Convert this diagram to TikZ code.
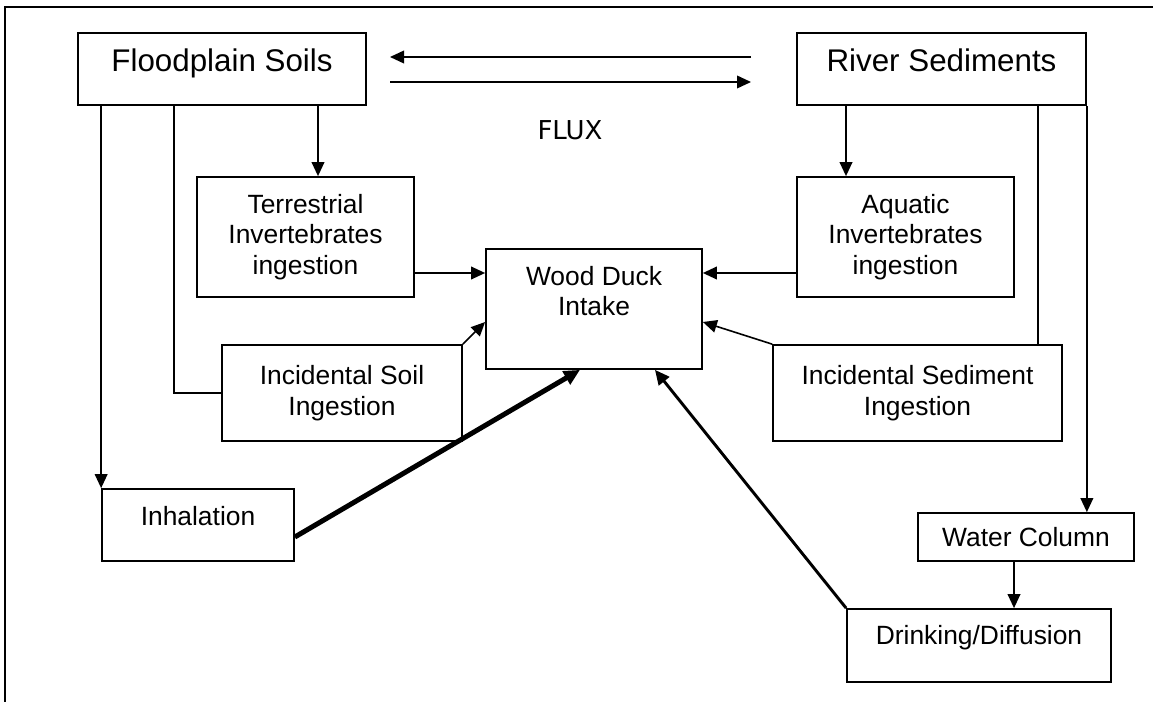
\documentclass[tikz,border=0pt]{standalone}
\usepackage{fontspec}
\setmainfont{Liberation Sans}
\newfontfamily\fluxfont{DejaVu Sans}
\usetikzlibrary{arrows.meta, positioning}

\begin{document}
\begin{tikzpicture}[
  x=0.75pt, y=-0.75pt,
  pbox/.style={draw, line width=1.3pt, align=center, inner sep=3pt, font=\fontsize{19.8}{22.8}\selectfont},
  bigbox/.style={pbox, font=\fontsize{23.5}{26}\selectfont},
  arr/.style={-{Triangle[length=10.5pt, width=9.5pt]}, line width=1.2pt},
  link/.style={line width=1.2pt},
  heavy/.style={-{Triangle[length=12pt, width=11pt]}, line width=3.75pt},
  medium/.style={-{Triangle[length=11pt, width=10pt]}, line width=2.2pt}
]
  \useasboundingbox (0,0) rectangle (1153,702);
  \draw[line width=1.6pt] (4.7,702) -- (4.7,7) -- (1153,7);

  % Sources
  \node[bigbox, minimum width=216pt, minimum height=54pt, text depth=13.8pt] (fps) at (222,69) {Floodplain Soils};
  \node[bigbox, minimum width=216.75pt, minimum height=54pt, text depth=13.8pt] (rvs) at (941.5,69) {River Sediments};

  % Flux between the two sources
  \coordinate (fluxnw) at (390,57);
  \coordinate (fluxne) at (751,57);
  \coordinate (fluxsw) at (390,82);
  \coordinate (fluxse) at (751,82);
  \draw[arr] (fluxne) -- (fluxnw);
  \draw[arr] (fluxsw) -- (fluxse);
  \node[font=\fluxfont\fontsize{19.5}{22}\selectfont] (flux) at (570,130) {FLUX};

  % Pathways
  \node[pbox, minimum width=162.75pt, minimum height=90pt] (ter) at (305.5,237) {Terrestrial\\Invertebrates\\ingestion};
  \node[pbox, minimum width=162.75pt, minimum height=90pt] (aqu) at (905.5,237) {Aquatic\\Invertebrates\\ingestion};
  \node[pbox, minimum width=162pt, minimum height=90pt, text depth=27pt] (wdi) at (594,309) {Wood Duck\\Intake};
  \node[pbox, minimum width=180pt, minimum height=72pt] (iso) at (342,393) {Incidental Soil\\Ingestion};
  \node[pbox, minimum width=216.75pt, minimum height=72pt] (ise) at (917.5,393) {Incidental Sediment\\Ingestion};
  \node[pbox, minimum width=144pt, minimum height=54pt, text depth=13.5pt] (inh) at (198,525) {Inhalation};
  \node[pbox, minimum width=162pt, minimum height=36pt] (wcl) at (1026,537) {Water Column};
  \node[pbox, minimum width=198pt, minimum height=54.75pt, text depth=16pt] (drk) at (979,645.5) {Drinking/Diffusion};

  % Floodplain branch
  \draw[arr] (318,0 |- fps.south) -- (318,0 |- ter.north);
  \draw[arr] (inh.north west |- fps.south) -- (inh.north west);
  \draw[link] (174,0 |- fps.south) |- (iso.west);

  % River branch
  \draw[arr] (846,0 |- rvs.south) -- (846,0 |- aqu.north);
  \draw[link] (1038,0 |- rvs.south) -- (1038,0 |- ise.north);
  \draw[arr] (rvs.south east) -- (rvs.south east |- wcl.north);
  \draw[arr] (1014,0 |- wcl.south) -- (1014,0 |- drk.north);

  % Into the intake
  \draw[arr] (ter.east |- 0,273) -- (wdi.west |- 0,273);
  \draw[arr] (aqu.west |- 0,273) -- (wdi.east |- 0,273);
  \draw[arr] (iso.north east) -- (wdi.west |- 0,322);
  \draw[arr] (ise.north west) -- (wdi.east |- 0,322);
  \draw[heavy] (inh.east |- 0,537) -- (580,0 |- wdi.south);
  \draw[medium] (drk.north west) -- (655,0 |- wdi.south);
\end{tikzpicture}
\end{document}
